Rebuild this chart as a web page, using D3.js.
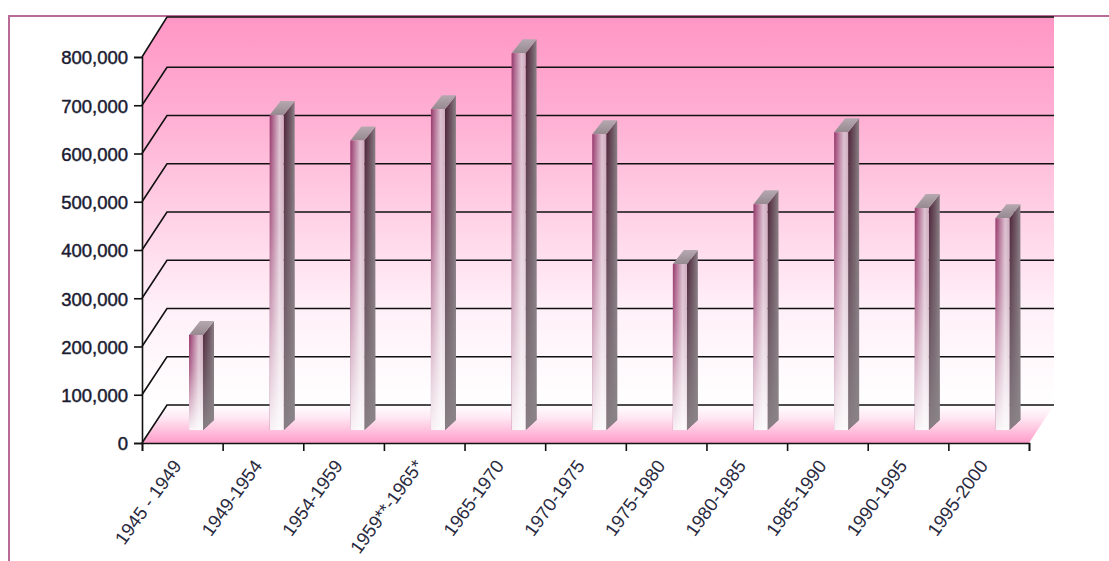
<!DOCTYPE html>
<html><head><meta charset="utf-8">
<script src="https://cdn.jsdelivr.net/npm/d3@7"></script>
<style>html,body{margin:0;padding:0;background:#fff}svg{display:block}text{font-family:"Liberation Sans",Arial,sans-serif}</style>
</head><body><svg id="c" width="1109" height="561"></svg>
<script>
// Births per period, drawn as pseudo-3D columns in a pink wall-and-floor frame.
const periods = ["1945 - 1949","1949-1954","1954-1959","1959**-1965*","1965-1970","1970-1975","1975-1980","1980-1985","1985-1990","1990-1995","1995-2000"];
const totals = [197000,653000,600000,665000,781000,613000,344000,468000,617000,460000,439000];
const yTicks = [0,100000,200000,300000,400000,500000,600000,700000,800000];

const svg = d3.select("#c");
const defs = svg.append("defs");
const depthX = 25, depthY = 38;
const x = d3.scaleBand().domain(periods).range([142,1029]).paddingInner(0).paddingOuter(0);
const y = d3.scaleLinear().domain([0,800000]).range([443,57]);
const fmt = d3.format(",");
const pts = a => a.map(p=>p.join(",")).join(" ");

function grad(id, stops, horiz, units){
  const g = defs.append("linearGradient").attr("id",id)
    .attr("x1",0).attr("y1",0).attr("x2",horiz?1:0).attr("y2",horiz?0:1);
  if(units){g.attr("gradientUnits","userSpaceOnUse").attr("x1",0).attr("x2",0).attr("y1",units[0]).attr("y2",units[1]);}
  stops.forEach(([o,c,a])=>g.append("stop").attr("offset",o).attr("stop-color",c).attr("stop-opacity",a===undefined?1:a));
}
grad("wall",[[0,"#ff97c5"],[.25,"#ffafd3"],[.5,"#ffd0e5"],[.75,"#fff0f8"],[1,"#ffffff"]],false,[y(800000)-depthY,y(0)-depthY]);
grad("floor",[[0,"#ffffff"],[.35,"#ffe6f2"],[1,"#ff9cc8"]],false);
grad("front",[[0,"#97386c"],[.25,"#b06a90"],[.7,"#dcc0d0"],[1,"#cdaabd"]],true);
grad("fade",[[0,"#ffffff",0],[.35,"#ffffff",.2],[1,"#ffffff",.93]],false);
grad("side",[[0,"#4a2036"],[.6,"#6e5562"],[1,"#8a8085"]],true);
grad("sideFade",[[0,"#8a8487",0],[.5,"#8a8487",.45],[1,"#8a8487",.95]],false);
grad("cap",[[0,"#b5a8af"],[1,"#968a90"]],false);

// frame around the chart area
svg.append("path").attr("d",d3.line()([[9,561],[9,16],[1109,16]]))
  .attr("fill","none").attr("stroke","#b96a96").attr("stroke-width",2);

// back wall, left wall and floor
const x0 = x.range()[0], x1 = x.range()[1];
svg.append("polygon").attr("points",pts([[x0,y(800000)],[x0+depthX,y(800000)-depthY-2],[x1+depthX,y(800000)-depthY-2],[x1+depthX,y(0)-depthY],[x0+depthX,y(0)-depthY],[x0,y(0)]])).attr("fill","url(#wall)");
svg.append("polygon").attr("points",pts([[x0,y(0)],[x0+depthX,y(0)-depthY],[x1+depthX,y(0)-depthY],[x1,y(0)]])).attr("fill","url(#floor)");

// gridlines run along the back wall and step down the left wall
const grid = svg.append("g").attr("fill","none").attr("stroke","#111").attr("stroke-width",1.6);
yTicks.forEach(t=>{
  const yb = y(t)-depthY-(t===800000?2:0);
  grid.append("path").attr("d",d3.line()([[x0,y(t)],[x0+depthX,yb],[x1+depthX,yb]]));
});

// columns: side face, top cap, front face
const barW = 14, sideD = 11, capH = 14, shift = 6.7, lift = 13;
const bars = svg.append("g").selectAll("g").data(periods).join("g");
const bx = d => x(d)+x.bandwidth()/2+shift;
const val = (d,i) => totals[i];
const ty = (d,i) => y(val(d,i))-lift;
const by = y(0)-lift;
bars.each(function(d,i){
  const g = d3.select(this), l = bx(d), r = l+barW, t = ty(d,i);
  const side = [[r,t],[r+sideD,t-capH],[r+sideD,by-10],[r,by]];
  g.append("polygon").attr("points",pts(side)).attr("fill","url(#side)");
  g.append("polygon").attr("points",pts(side)).attr("fill","url(#sideFade)");
  g.append("polygon").attr("points",pts([[l,t],[r,t],[r+sideD,t-capH],[l+sideD,t-capH]])).attr("fill","url(#cap)");
  g.append("rect").attr("x",l).attr("y",t).attr("width",barW).attr("height",by-t).attr("fill","url(#front)");
  g.append("rect").attr("x",l).attr("y",t).attr("width",barW).attr("height",by-t).attr("fill","url(#fade)");
});

// axes
const yAxis = d3.axisLeft(y).tickValues(yTicks).tickSize(8).tickPadding(6).tickFormat(fmt);
const gy = svg.append("g").attr("transform",`translate(${x0},0)`).call(yAxis);
gy.select(".domain").attr("stroke","#111").attr("stroke-width",1.6);
gy.selectAll("line").attr("stroke","#111").attr("stroke-width",1.6);
gy.selectAll("text").attr("fill","#1a1a30").attr("font-size",18.5).attr("stroke","#1a1a30").attr("stroke-width",0.45).attr("dy","0.37em");

const xTickScale = d3.scaleLinear().domain([0,periods.length]).range([x0,x1]);
const xAxis = d3.axisBottom(xTickScale).tickValues(d3.range(periods.length+1)).tickSize(8).tickFormat("");
const gx = svg.append("g").attr("transform",`translate(0,${y(0)})`).call(xAxis);
gx.select(".domain").attr("stroke","#111").attr("stroke-width",1.6);
gx.selectAll("line").attr("stroke","#111").attr("stroke-width",1.6);

svg.append("g").selectAll("text").data(periods).join("text")
  .attr("transform",d=>`translate(${x(d)+x.bandwidth()/2},${y(0)+23}) rotate(-54)`)
  .attr("text-anchor","end").attr("font-size",18.5).attr("fill","#2a2a40")
  .text(d=>d);
</script></body></html>
